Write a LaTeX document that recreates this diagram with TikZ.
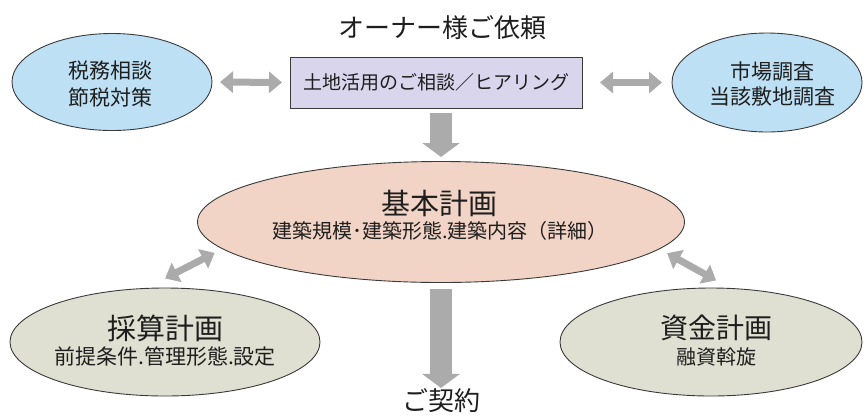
\documentclass[tikz,border=0pt]{standalone}
\usepackage{fontspec}
\newfontfamily\jp{Noto Sans CJK JP}
\usetikzlibrary{arrows.meta,shapes.geometric}
\definecolor{boxfill}{HTML}{D9D5EC}
\definecolor{bluefill}{HTML}{BEE0F5}
\definecolor{peachfill}{HTML}{F2D4C6}
\definecolor{greyfill}{HTML}{E0E0D2}
\definecolor{arrgray}{HTML}{ABABAB}
\definecolor{edge}{HTML}{3A3A3A}
\definecolor{ink}{HTML}{1E1E1E}
\tikzset{
  oval/.style={ellipse, draw=edge, line width=0.9pt, outer sep=0pt, inner sep=0pt},
  txt/.style={inner sep=0pt, outer sep=0pt, text=ink, align=center},
  fatH/.style={line width=7pt, draw=arrgray,
    {Triangle[length=13pt,width=21pt]}-{Triangle[length=13pt,width=21pt]}},
  fatV/.style={line width=22pt, draw=arrgray,
    -{Triangle[length=14pt,width=37pt]}},
}
\begin{document}
\begin{tikzpicture}[x=1pt,y=-1pt]
\useasboundingbox (0,0) rectangle (864,416);

% title
\node[txt, font=\jp\fontsize{26}{30}\selectfont] (title) at (442,28) {オーナー様ご依頼};

% top box
\node[draw=edge, line width=0.8pt, fill=boxfill, minimum width=292pt, minimum height=51pt,
      inner sep=0pt, outer sep=0pt, text=ink, font=\jp\fontsize{19}{22}\selectfont]
      (req) at (436,82.5) {土地活用のご相談／ヒアリング};

% top ellipses
\node[oval, fill=bluefill, minimum width=200pt, minimum height=97pt] (tl) at (112,82) {};
\node[txt, font=\jp\fontsize{21}{26}\selectfont] (tlt) at (110,71) {税務相談};
\node[txt, font=\jp\fontsize{21}{26}\selectfont] (tlb) at (110,97) {節税対策};

\node[oval, fill=bluefill, minimum width=190pt, minimum height=99pt] (tr) at (767,82.5) {};
\node[txt, font=\jp\fontsize{21}{26}\selectfont] (trt) at (772,72) {市場調査};
\node[txt, font=\jp\fontsize{21}{26}\selectfont] (trb) at (772,97) {当該敷地調査};

% central ellipse
\node[oval, fill=peachfill, minimum width=487pt, minimum height=121pt] (ce) at (441,222) {};
\node[txt, font=\jp\fontsize{29}{33}\selectfont] (cet) at (439,203) {基本計画};
\node[txt, font=\jp\fontsize{20}{24}\selectfont] (ces) at (440,231) {建築規模･建築形態.建築内容（詳細）};

% bottom ellipses
\node[oval, fill=greyfill, minimum width=310pt, minimum height=108pt] (bl) at (165,342) {};
\node[txt, font=\jp\fontsize{29}{33}\selectfont] (blt) at (165,328) {採算計画};
\node[txt, font=\jp\fontsize{21}{25}\selectfont] (blb) at (165,357) {前提条件.管理形態.設定};

\node[oval, fill=greyfill, minimum width=302pt, minimum height=108pt] (br) at (711,342) {};
\node[txt, font=\jp\fontsize{28}{32}\selectfont] (brt) at (716,328) {資金計画};
\node[txt, font=\jp\fontsize{20}{24}\selectfont] (brb) at (716,357) {融資斡旋};

% contract
\node[txt, font=\jp\fontsize{26}{30}\selectfont] (con) at (441,401) {ご契約};

% arrows
\draw[fatH, shorten <=8pt, shorten >=8pt] (tl.east) -- (req.west);
\draw[fatH, shorten <=18pt, shorten >=10pt] (req.east) -- (tr.west);
\draw[fatV, shorten <=5pt, shorten >=4.5pt] (req.south -| ce.north) -- (ce.north);
\draw[fatV, shorten <=6pt, shorten >=1pt] (ce.south) -- (con.north);
\draw[fatH, shorten <=22pt, shorten >=9pt] (bl.110) -- (ce.187);
\draw[fatH, shorten <=9pt, shorten >=16.5pt] (ce.353.5) -- (br.70);
\end{tikzpicture}
\end{document}
